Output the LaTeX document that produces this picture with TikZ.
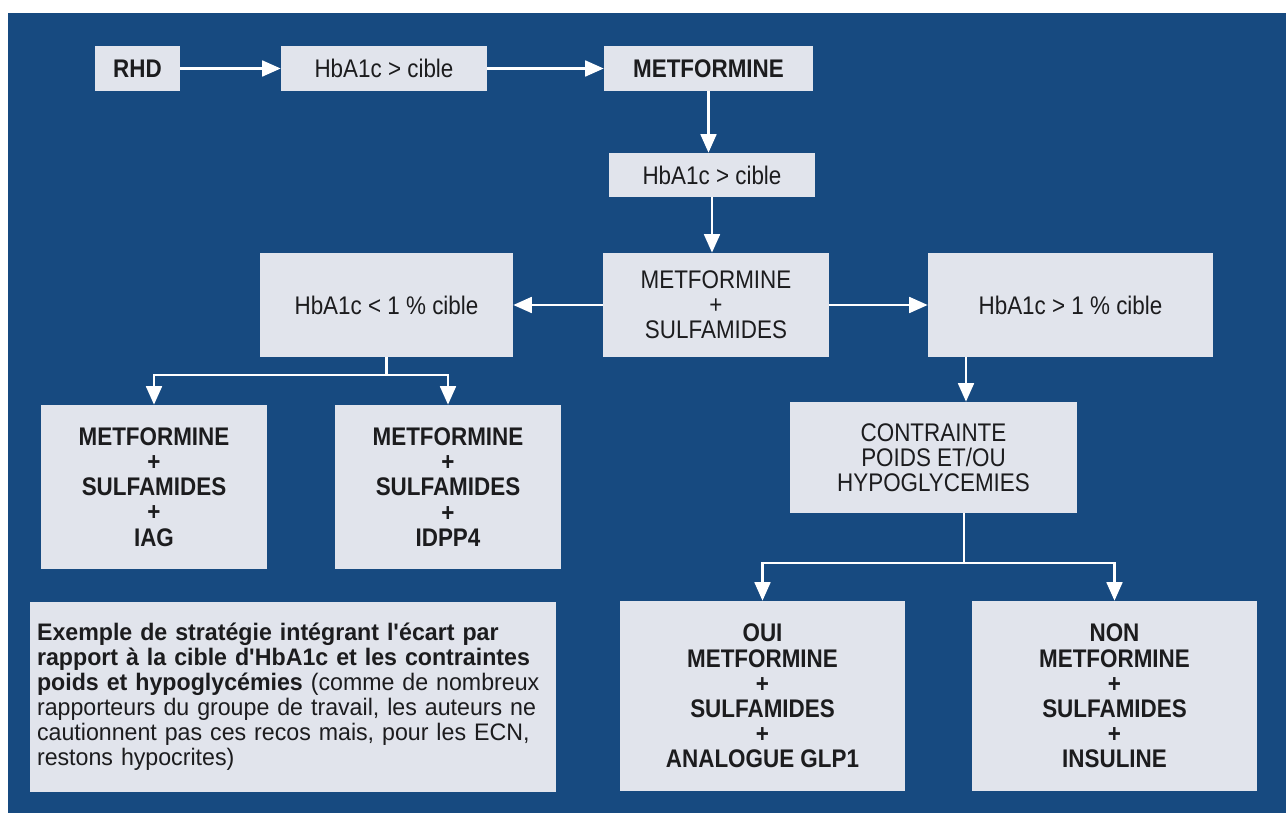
\documentclass[tikz,border=0pt]{standalone}
\usepackage{fontspec}
\setmainfont{Liberation Sans}[FakeStretch=0.88]
\newfontfamily\notefont{Liberation Sans}[FakeStretch=0.97]
\usetikzlibrary{arrows.meta}
\definecolor{bgblue}{HTML}{174A80}
\definecolor{boxfill}{HTML}{E1E4EC}
\definecolor{txt}{HTML}{1C1C1E}
\tikzset{
  box/.style={fill=boxfill, draw=none, inner sep=0pt, align=center, text=txt,
    font=\fontsize{14.5}{14.3}\selectfont},
  boldbox/.style={box, font=\fontsize{14.5}{14.3}\selectfont\bfseries},
  arr/.style={draw=white, line width=1.3pt, -{Triangle[width=9pt,length=10.5pt]}},
  link/.style={draw=white, line width=1.3pt}
}
\begin{document}
\begin{tikzpicture}[x=0.02cm,y=-0.02cm]
\useasboundingbox (0,0) rectangle (1286,813);
\fill[white] (0,0) rectangle (1286,813);
\fill[bgblue] (8,13) rectangle (1286,813);

\node[boldbox, minimum width=1.70cm, minimum height=0.90cm] (rhd) at (137.5,68.5) {RHD};
\node[box, minimum width=4.12cm, minimum height=0.90cm] (h1) at (384,68.5) {HbA1c > cible};
\node[boldbox, minimum width=4.18cm, minimum height=0.90cm] (met) at (708.5,68.5) {METFORMINE};
\node[box, minimum width=4.12cm, minimum height=0.88cm] (h2) at (712,175) {HbA1c > cible};
\node[box, minimum width=4.52cm, minimum height=2.08cm] (ms) at (716,305) {METFORMINE\\+\\SULFAMIDES};
\node[box, minimum width=5.06cm, minimum height=2.08cm] (hl) at (386.5,305) {HbA1c < 1 \% cible};
\node[box, minimum width=5.70cm, minimum height=2.08cm] (hr) at (1070.5,305) {HbA1c > 1 \% cible};
\node[boldbox, minimum width=4.52cm, minimum height=3.28cm] (l1) at (154,487) {METFORMINE\\+\\SULFAMIDES\\+\\IAG};
\node[boldbox, minimum width=4.52cm, minimum height=3.28cm] (l2) at (448,487) {METFORMINE\\+\\SULFAMIDES\\+\\IDPP4};
\node[box, minimum width=5.74cm, minimum height=2.22cm] (cont) at (933.5,457.5) {CONTRAINTE\\POIDS ET/OU\\HYPOGLYCEMIES};
\node[box, minimum width=10.52cm, minimum height=3.80cm, text width=10.24cm, align=left,
  font=\notefont\fontsize{13.6}{14.2}\selectfont] (note) at (293,697)
  {\textbf{Exemple de stratégie intégrant l\textquotesingle écart par}\\
   \textbf{rapport à la cible d\textquotesingle HbA1c et les contraintes}\\
   \textbf{poids et hypoglycémies} (comme de nombreux\\
   rapporteurs du groupe de travail, les auteurs ne\\
   cautionnent pas ces recos mais, pour les ECN,\\
   restons hypocrites)};
\node[boldbox, minimum width=5.70cm, minimum height=3.80cm] (oui) at (762.5,696) {OUI\\METFORMINE\\+\\SULFAMIDES\\+\\ANALOGUE GLP1};
\node[boldbox, minimum width=5.70cm, minimum height=3.80cm] (non) at (1114.5,696) {NON\\METFORMINE\\+\\SULFAMIDES\\+\\INSULINE};

\coordinate (jl) at (386.5,375);
\coordinate (jr) at (966,330);
\coordinate (jc) at (964,563);

\draw[arr] (rhd) -- (h1);
\draw[arr] (h1) -- (met);
\draw[arr] (met) -- (met |- h2.north);
\draw[arr] (h2) -- (h2 |- ms.north);
\draw[arr] (ms) -- (hl);
\draw[arr] (ms) -- (hr);
\draw[link] (hl.south) -- (jl);
\draw[arr] (jl) -| (l1.north);
\draw[arr] (jl) -| (l2.north);
\draw[arr] (hr.south -| jr) -- (cont.north -| jr);
\draw[link] (cont.south -| jc) -- (jc);
\draw[arr] (jc) -| (oui.north);
\draw[arr] (jc) -| (non.north);
\end{tikzpicture}
\end{document}
